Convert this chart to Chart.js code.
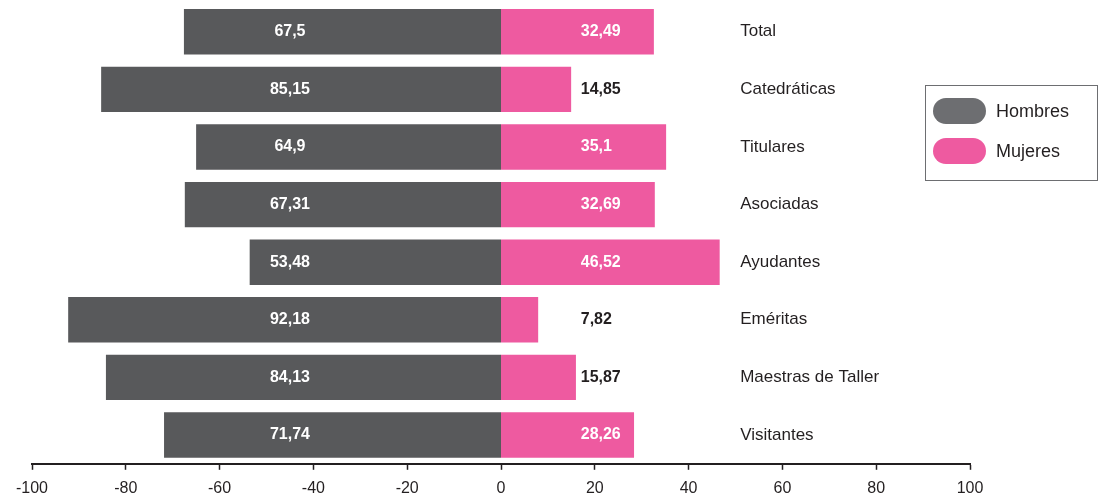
<!DOCTYPE html>
<html>
<head>
<meta charset="utf-8">
<script src="https://cdn.jsdelivr.net/npm/chart.js@4"></script>
<style>
  html, body { margin: 0; padding: 0; background: #ffffff; }
  #wrap { width: 1109px; height: 496px; position: relative; }
</style>
</head>
<body>
<div id="wrap"><canvas id="grafico"></canvas></div>
<script>
// datos
const categorias = ['Total', 'Catedráticas', 'Titulares', 'Asociadas', 'Ayudantes', 'Eméritas', 'Maestras de Taller', 'Visitantes'];
const hombres = [67.5, 85.15, 64.9, 67.31, 53.48, 92.18, 84.13, 71.74];
const mujeres = [32.49, 14.85, 35.1, 32.69, 46.52, 7.82, 15.87, 28.26];
const etiquetasHombres = ['67,5', '85,15', '64,9', '67,31', '53,48', '92,18', '84,13', '71,74'];
const etiquetasMujeres = ['32,49', '14,85', '35,1', '32,69', '46,52', '7,82', '15,87', '28,26'];
const ticksX = [-100, -80, -60, -40, -20, 0, 20, 40, 60, 80, 100];

const colorHombres = '#58595b';
const colorMujeres = '#ee5aa0';
const fuente = "'Liberation Sans', Arial, Helvetica, sans-serif";

// etiquetas de valores, nombres de categoría y leyenda
const pluginTextos = {
    id: 'textos',
    afterDatasetsDraw(chart) {
        const ctx = chart.ctx;
        const x = chart.scales.x;
        const y = chart.scales.y;
        ctx.save();
        ctx.textBaseline = 'middle';
        ctx.font = 'bold 16px ' + fuente;

        categorias.forEach((cat, i) => {
            const yy = y.getPixelForValue(i);
            // hombres, dentro de la barra
            ctx.fillStyle = '#ffffff';
            ctx.textAlign = 'center';
            ctx.fillText(etiquetasHombres[i], x.getPixelForValue(-45), yy);
            // mujeres: blanco dentro, negro fuera
            ctx.textAlign = 'left';
            ctx.fillStyle = mujeres[i] > 25 ? '#ffffff' : '#231f20';
            ctx.fillText(etiquetasMujeres[i], x.getPixelForValue(17), yy);
        });

        // nombres de categoría
        ctx.font = '17px ' + fuente;
        ctx.fillStyle = '#231f20';
        ctx.textAlign = 'left';
        categorias.forEach((cat, i) => {
            ctx.fillText(cat, x.getPixelForValue(51), y.getPixelForValue(i));
        });

        // leyenda
        ctx.strokeStyle = '#6d6e71';
        ctx.lineWidth = 1;
        ctx.strokeRect(925.5, 85.5, 172, 95);
        const items = [['Hombres', '#6d6e71', 111], ['Mujeres', colorMujeres, 151]];
        items.forEach(([txt, col, cy]) => {
            ctx.fillStyle = col;
            ctx.beginPath();
            ctx.roundRect(933, cy - 13, 53, 26, 13);
            ctx.fill();
            ctx.fillStyle = '#231f20';
            ctx.font = '18px ' + fuente;
            ctx.fillText(txt, 996, cy + 1);
        });
        ctx.restore();
    }
};

new Chart(document.getElementById('grafico'), {
    type: 'bar',
    data: {
        labels: categorias,
        datasets: [
            {
                label: 'Hombres',
                data: hombres.map(v => -v),
                backgroundColor: colorHombres,
                barPercentage: 0.77,
                categoryPercentage: 1,
                inflateAmount: 0.5
            },
            {
                label: 'Mujeres',
                data: mujeres,
                backgroundColor: colorMujeres,
                barPercentage: 0.77,
                categoryPercentage: 1,
                inflateAmount: 0.5
            }
        ]
    },
    options: {
        indexAxis: 'y',
        responsive: true,
        maintainAspectRatio: false,
        animation: false,
        layout: { padding: { left: 32, right: 139, top: 3, bottom: -11 } },
        plugins: {
            legend: { display: false },
            tooltip: { enabled: false }
        },
        scales: {
            x: {
                stacked: true,
                min: -100,
                max: 100,
                afterBuildTicks: (eje) => { eje.ticks = ticksX.map(v => ({ value: v })); },
                grid: {
                    drawOnChartArea: false,
                    drawTicks: true,
                    tickLength: 6,
                    tickWidth: 1.5,
                    tickColor: '#231f20'
                },
                border: { display: true, color: '#231f20', width: 2 },
                ticks: {
                    color: '#231f20',
                    padding: 9,
                    maxRotation: 0,
                    font: { family: fuente, size: 16 }
                }
            },
            y: {
                stacked: true,
                display: false
            }
        }
    },
    plugins: [pluginTextos]
});
</script>
</body>
</html>
